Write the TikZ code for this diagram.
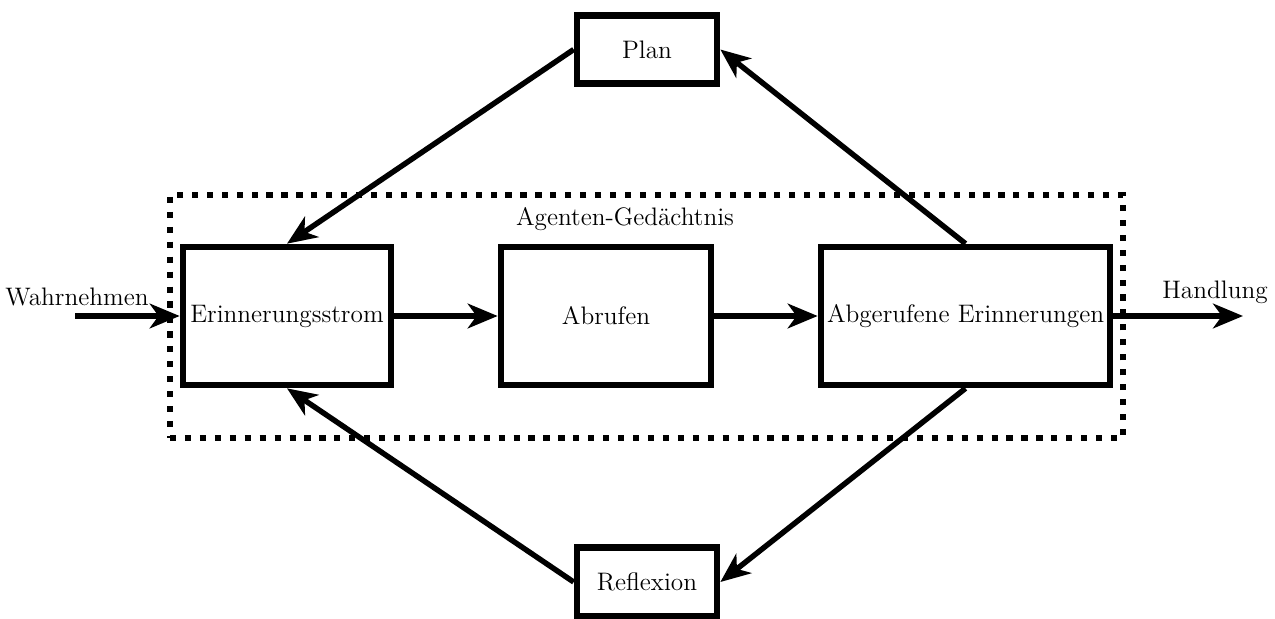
\documentclass[tikz,border=0pt]{standalone}
\usetikzlibrary{arrows.meta}
\begin{document}
\begin{tikzpicture}[
  every node/.style={font=\fontsize{14.4}{17}\selectfont},
  blk/.style={draw, line width=3.8pt, inner sep=0pt, minimum height=2.76cm},
  smallblk/.style={draw, line width=3.8pt, inner sep=0pt, minimum width=2.8cm, minimum height=1.37cm},
  membox/.style={draw, line width=3.5pt, dash pattern=on 3.5pt off 5pt, inner sep=0pt, minimum width=19.06cm, minimum height=4.86cm},
  arr/.style={line width=3.1pt, -{Stealth[length=17pt, width=14pt, inset=5pt]}},
  lbl/.style={inner sep=0pt}
]
\useasboundingbox (0,0) rectangle (25.5,-12.36);
\node[membox] (mem) at (12.93,-6.33) {};
\node[lbl] (memlbl) at (12.5,-4.38) {Agenten-Gedächtnis};
\node[blk, minimum width=4.16cm] (ers) at (5.74,-6.32) {Erinnerungsstrom};
\node[blk, minimum width=4.2cm] (abr) at (12.12,-6.32) {Abrufen};
\node[blk, minimum width=5.78cm] (agg) at (19.31,-6.32) {Abgerufene Erinnerungen};
\node[smallblk] (plan) at (12.94,-0.99) {Plan};
\node[smallblk] (refl) at (12.94,-11.64) {Reflexion};
\node[lbl] (wahr) at (1.54,-5.94) {Wahrnehmen};
\node[lbl] (hand) at (24.3,-5.84) {Handlung};
\coordinate (in) at (1.5,-6.32);
\coordinate (out) at (24.86,-6.32);
\draw[arr] (in) -- (ers.west);
\draw[arr] (ers.east) -- (abr.west);
\draw[arr] (abr.east) -- (agg.west);
\draw[arr] (agg.east) -- (out);
\draw[arr] (plan.west) -- (ers.north);
\draw[arr] (agg.north) -- (plan.east);
\draw[arr] (agg.south) -- (refl.east);
\draw[arr] (refl.west) -- (ers.south);
\end{tikzpicture}
\end{document}
